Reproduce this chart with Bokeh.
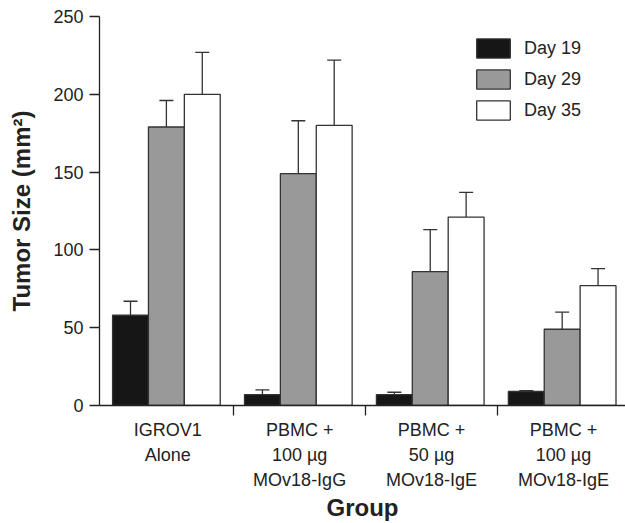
from bokeh.plotting import figure
from bokeh.models import Range1d, FixedTicker, Legend, LegendItem
from bokeh.embed import file_html
from bokeh.resources import INLINE

groups = ["IGROV1\nAlone", "PBMC +\n100 \u00b5g\nMOv18-IgG",
          "PBMC +\n50 \u00b5g\nMOv18-IgE", "PBMC +\n100 \u00b5g\nMOv18-IgE"]
days = ["Day 19", "Day 29", "Day 35"]
day19 = [58, 7, 7, 9]
day19_err = [9, 3, 1.5, 0.5]
day29 = [179, 149, 86, 49]
day29_err = [17, 34, 27, 11]
day35 = [200, 180, 121, 77]
day35_err = [27, 42, 16, 11]
y_ticks = [0, 50, 100, 150, 200, 250]

series = [day19, day29, day35]
errors = [day19_err, day29_err, day35_err]
colors = ["#161616", "#999999", "#ffffff"]
FONT = "Liberation Sans"
DARK = "#222222"
bar_w = 0.272
offsets = [-bar_w, 0.0, bar_w]
shift = -0.01
cap = 0.053

p = figure(width=625, height=523, output_backend="svg", toolbar_location=None,
           x_range=Range1d(-0.517, 3.47), y_range=Range1d(0, 250),
           min_border_left=99, min_border_right=0, min_border_top=16,
           min_border_bottom=118)
p.grid.visible = False
p.outline_line_color = None
p.background_fill_color = "white"

items = []
for i in range(3):
    xs = [g + offsets[i] + shift for g in range(len(groups))]
    tops = series[i]
    ups = [v + e for v, e in zip(series[i], errors[i])]
    p.segment(x0=xs, y0=tops, x1=xs, y1=ups, line_color="#333333", line_width=1.3)
    p.segment(x0=[x - cap for x in xs], y0=ups, x1=[x + cap for x in xs], y1=ups,
              line_color="#333333", line_width=1.3)
    r = p.vbar(x=xs, top=tops, bottom=0, width=bar_w, fill_color=colors[i],
               line_color="#333333", line_width=1.3)
    items.append(LegendItem(label=days[i], renderers=[r]))

legend = Legend(items=items, location=(373, 283), glyph_width=42, glyph_height=24,
                spacing=7, label_standoff=10, padding=0, margin=0,
                border_line_color=None, background_fill_alpha=0,
                label_text_font=FONT, label_text_font_size="18px",
                label_text_color=DARK)
p.add_layout(legend, "center")

# y axis
ya = p.yaxis[0]
ya.ticker = FixedTicker(ticks=y_ticks)
ya.minor_tick_line_color = None
ya.major_tick_out = 10
ya.major_tick_in = 0
ya.major_label_standoff = 6
ya.axis_line_color = DARK
ya.major_tick_line_color = DARK
ya.axis_line_width = 1.3
ya.major_tick_line_width = 1.3
ya.major_label_text_font = FONT
ya.major_label_text_font_size = "18px"
ya.major_label_text_color = DARK
ya.axis_label = "Tumor Size (mm\u00b2)"
ya.axis_label_text_font = FONT
ya.axis_label_text_font_style = "bold"
ya.axis_label_text_font_size = "24px"
ya.axis_label_text_color = DARK
ya.axis_label_standoff = 15

# x axis
xa = p.xaxis[0]
xa.ticker = FixedTicker(ticks=list(range(len(groups))), minor_ticks=[0.5, 1.5, 2.5])
xa.major_label_overrides = {i: g for i, g in enumerate(groups)}
xa.major_tick_out = 0
xa.major_tick_in = 0
xa.minor_tick_out = 10
xa.minor_tick_in = 0
xa.axis_line_color = DARK
xa.minor_tick_line_color = DARK
xa.axis_line_width = 1.3
xa.minor_tick_line_width = 1.3
xa.major_label_standoff = 4
xa.major_label_text_font = FONT
xa.major_label_text_font_size = "18px"
xa.major_label_text_color = DARK
xa.major_label_text_line_height = 1.25
xa.axis_label = "Group"
xa.axis_label_text_font = FONT
xa.axis_label_text_font_style = "bold"
xa.axis_label_text_font_size = "24px"
xa.axis_label_text_color = DARK
xa.axis_label_standoff = 1

open("out.html", "w").write(file_html(p, INLINE))
